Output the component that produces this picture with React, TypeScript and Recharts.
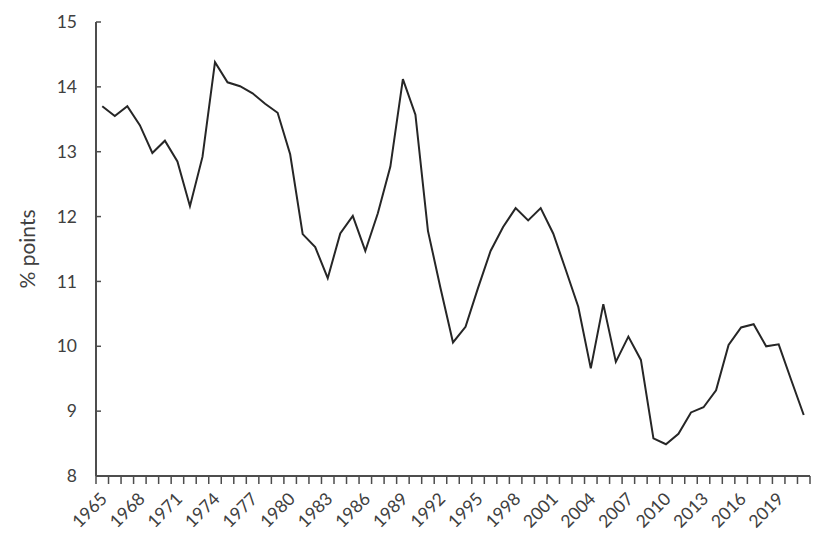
import { LineChart, Line, XAxis, YAxis } from 'recharts';

// years 1965..2021, one value per year
const years = Array.from({ length: 57 }, (_, i) => 1965 + i);
const values = [
  13.7, 13.55, 13.7, 13.41, 12.98, 13.17, 12.85, 12.16, 12.92, 14.38,
  14.07, 14.01, 13.9, 13.74, 13.6, 12.96, 11.73, 11.53, 11.05, 11.74,
  12.01, 11.47, 12.05, 12.77, 14.12, 13.57, 11.78, 10.9, 10.06, 10.3,
  10.9, 11.47, 11.84, 12.13, 11.94, 12.13, 11.74, 11.18, 10.61, 9.66,
  10.65, 9.76, 10.15, 9.79, 8.58, 8.49, 8.65, 8.98, 9.06, 9.32,
  10.02, 10.29, 10.34, 10.0, 10.03, 9.48, 8.94,
];
const yearLabels = [1965, 1968, 1971, 1974, 1977, 1980, 1983, 1986, 1989, 1992, 1995, 1998, 2001, 2004, 2007, 2010, 2013, 2016, 2019];
const yTicks = [8, 9, 10, 11, 12, 13, 14, 15];
// tick marks sit between the years, excel style
const boundaries = Array.from({ length: years.length + 1 }, (_, i) => years[0] - 0.5 + i);

const data = years.map((year, i) => ({ year, value: values[i] }));

const TEXT = '#404040';
const AXIS = '#4d4d4d';

// each tick is a year boundary: draw the mark there, the label half a year to the right
const YearTick = (props: any) => {
  const { x, y, payload, width } = props;
  const year = payload.value + 0.5;
  const half = (width ?? 714) / years.length / 2;
  const tx = x + half + 6;
  const ty = y + 24;
  return (
    <g>
      <path d={`M${x},${y}V${y + 8}`} stroke={AXIS} strokeWidth={1.5} fill="none" />
      {yearLabels.includes(year) && (
        <text x={tx} y={ty} transform={`rotate(-45 ${tx} ${ty})`} textAnchor="end" fontSize={17.5} fill={TEXT}>
          {year}
        </text>
      )}
    </g>
  );
};

// y ticks point inwards, labels sit left of the axis
const ValueTick = ({ x, y, payload }: any) => (
  <g>
    <path d={`M${x},${y}H${x + 5}`} stroke={AXIS} strokeWidth={1.5} fill="none" />
    <text x={x - 19} y={y} dy="0.35em" textAnchor="end" fontSize={17.5} fill={TEXT}>
      {payload.value}
    </text>
  </g>
);

const YLabel = ({ viewBox }: any) => {
  const cx = viewBox.x + 30;
  const cy = viewBox.y + viewBox.height / 2;
  return (
    <text x={cx} y={cy} transform={`rotate(-90 ${cx} ${cy})`} textAnchor="middle" dominantBaseline="middle" fontSize={21} fill={TEXT}>
      % points
    </text>
  );
};

export default function App() {
  return (
    <div style={{ position: 'absolute', left: 0, top: 0, background: '#fff' }}>
      <LineChart
        width={833}
        height={550}
        data={data}
        margin={{ top: 22, right: 23, bottom: 0, left: 0 }}
        style={{ fontFamily: 'Lato, sans-serif' }}
      >
        <XAxis
          dataKey="year"
          type="number"
          domain={[years[0] - 0.5, years[years.length - 1] + 0.5]}
          ticks={boundaries}
          interval={0}
          tickSize={0}
          tickMargin={0}
          height={74}
          axisLine={{ stroke: AXIS, strokeWidth: 2 }}
          tickLine={false}
          tick={<YearTick />}
        />
        <YAxis
          domain={[8, 15]}
          ticks={yTicks}
          interval={0}
          width={96}
          tickSize={0}
          tickMargin={0}
          tick={<ValueTick />}
          axisLine={{ stroke: AXIS, strokeWidth: 2 }}
          tickLine={false}
          label={<YLabel />}
        />
        <Line
          dataKey="value"
          stroke="#262626"
          strokeWidth={2}
          dot={false}
          isAnimationActive={false}
        />
      </LineChart>
    </div>
  );
}
